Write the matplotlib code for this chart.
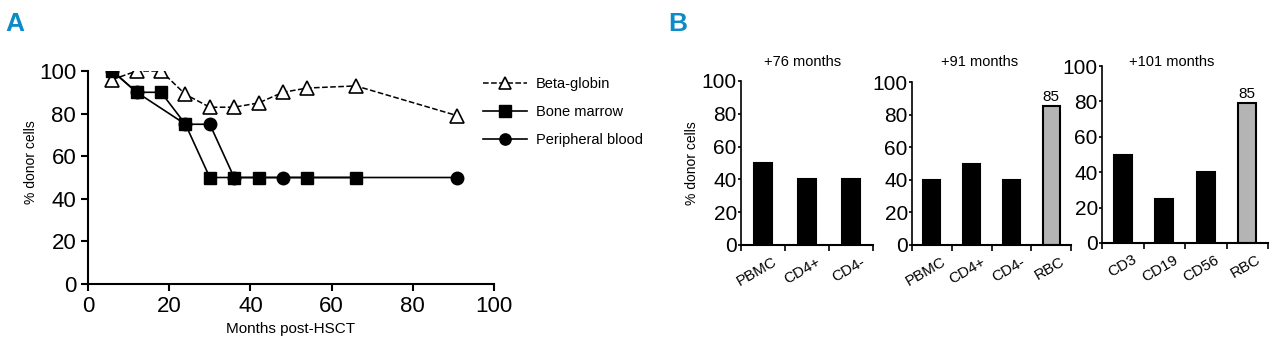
import matplotlib
matplotlib.use('Agg')
import matplotlib.pyplot as plt
import matplotlib.transforms as mtrans
from matplotlib.ticker import FixedLocator

plt.rcParams['font.family'] = ['Liberation Sans', 'DejaVu Sans']

# panel A data
beta_x = [6, 12, 18, 24, 30, 36, 42, 48, 54, 66, 91]
beta_y = [96, 100, 100, 89, 83, 83, 85, 90, 92, 93, 79]
bm_x = [6, 12, 18, 24, 30, 36, 42, 54, 66]
bm_y = [100, 90, 90, 75, 50, 50, 50, 50, 50]
pb_x = [6, 12, 24, 30, 36, 48, 91]
pb_y = [100, 90, 75, 75, 50, 50, 50]

# panel B data
b1_cats = ['PBMC', 'CD4+', 'CD4-']
b1_vals = [50, 40, 40]
b2_cats = ['PBMC', 'CD4+', 'CD4-', 'RBC']
b2_vals = [40, 50, 40, 85]
b3_cats = ['CD3', 'CD19', 'CD56', 'RBC']
b3_vals = [50, 25, 40, 79]
titles = ['+76 months', '+91 months', '+101 months']

W, H = 1280, 351
fig = plt.figure(figsize=(W / 100, H / 100), dpi=100)


def px_axes(l, r, b, t):
    return fig.add_axes([l / W, 1 - b / H, (r - l) / W, (b - t) / H])


blue = '#0b8bc8'
fig.text(5 / W, 1 - 31 / H, 'A', color=blue, fontsize=19, fontweight='bold')
fig.text(668 / W, 1 - 31 / H, 'B', color=blue, fontsize=19, fontweight='bold')

# ---------------- panel A
ax = px_axes(88, 494, 284, 71)
ax.plot(beta_x, beta_y, color='black', ls='--', lw=1.1, marker='^', ms=10,
        mfc='white', mec='black', mew=1.2, label='Beta-globin', zorder=3)
ax.plot(pb_x, pb_y, color='black', lw=1.2, marker='o', ms=9,
        mfc='black', mec='black', label='Peripheral blood', zorder=2)
ax.plot(bm_x, bm_y, color='black', lw=1.2, marker='s', ms=9,
        mfc='black', mec='black', label='Bone marrow', zorder=4)
ax.set_xlim(0, 100)
ax.set_ylim(0, 100)
ax.set_xticks([0, 20, 40, 60, 80, 100])
ax.set_yticks([0, 20, 40, 60, 80, 100])
ax.spines['top'].set_visible(False)
ax.spines['right'].set_visible(False)
for s in ['left', 'bottom']:
    ax.spines[s].set_linewidth(1.5)
ax.tick_params(labelsize=16, width=1.5, length=5)
ax.set_xlabel('Months post-HSCT', fontsize=11, labelpad=4)
ax.set_ylabel('% donor cells', fontsize=10)
ax.yaxis.set_label_coords(-0.122, 0.57)
for sp in ax.spines.values():
    sp.set_clip_on(False)

h, lab = ax.get_legend_handles_labels()
order = [0, 2, 1]
ax.legend([h[i] for i in order], [lab[i] for i in order],
          loc='upper left', bbox_to_anchor=(483 / W, 1 - 77 / H),
          bbox_transform=fig.transFigure, frameon=False, fontsize=10.5,
          handlelength=3.0, handletextpad=0.6, labelspacing=0.95,
          borderpad=0, borderaxespad=0, markerscale=0.9)

# ---------------- panel B
specs = [
    (b1_cats, b1_vals, (741, 873, 245, 81), 803),
    (b2_cats, b2_vals, (912, 1071, 245, 82), 980),
    (b3_cats, b3_vals, (1102, 1268, 243, 66), 1172),
]
bax = []
for k, (cats, vals, box, tx) in enumerate(specs):
    a = px_axes(*box)
    bax.append(a)
    n = len(cats)
    pos = list(range(n))
    colors = ['black'] * n
    if cats[-1] == 'RBC':
        colors[-1] = '#b4b4b4'
    a.bar(pos, vals, width=0.43, color=colors, edgecolor='black', linewidth=1.5)
    a.set_xlim(-0.5, n - 0.5)
    a.set_ylim(0, 100)
    a.set_yticks([0, 20, 40, 60, 80, 100])
    a.set_xticks(pos)
    a.set_xticklabels(cats, rotation=30, ha='right', rotation_mode='anchor',
                      fontsize=11)
    a.xaxis.set_minor_locator(FixedLocator([i - 0.5 for i in range(n + 1)]))
    a.tick_params(axis='x', which='major', length=0, pad=7)
    a.tick_params(axis='x', which='minor', length=4, width=1.2)
    a.tick_params(axis='y', labelsize=15, length=2, width=1.2, pad=1)
    a.spines['top'].set_visible(False)
    a.spines['right'].set_visible(False)
    a.spines['left'].set_linewidth(1.2)
    a.spines['bottom'].set_linewidth(1.5)
    fig.text(tx / W, 1 - 62 / H, titles[k], fontsize=10.5, ha='center', va='center')
    if cats[-1] == 'RBC':
        a.text(n - 1, vals[-1] + 1.5, '85', ha='center', va='bottom', fontsize=11)
    off = mtrans.ScaledTranslation(9 / 100, 0, fig.dpi_scale_trans)
    for lbl in a.get_xticklabels():
        lbl.set_transform(lbl.get_transform() + off)

bax[0].set_ylabel('% donor cells', fontsize=10, labelpad=2)

fig.savefig('out.png', dpi=100)
